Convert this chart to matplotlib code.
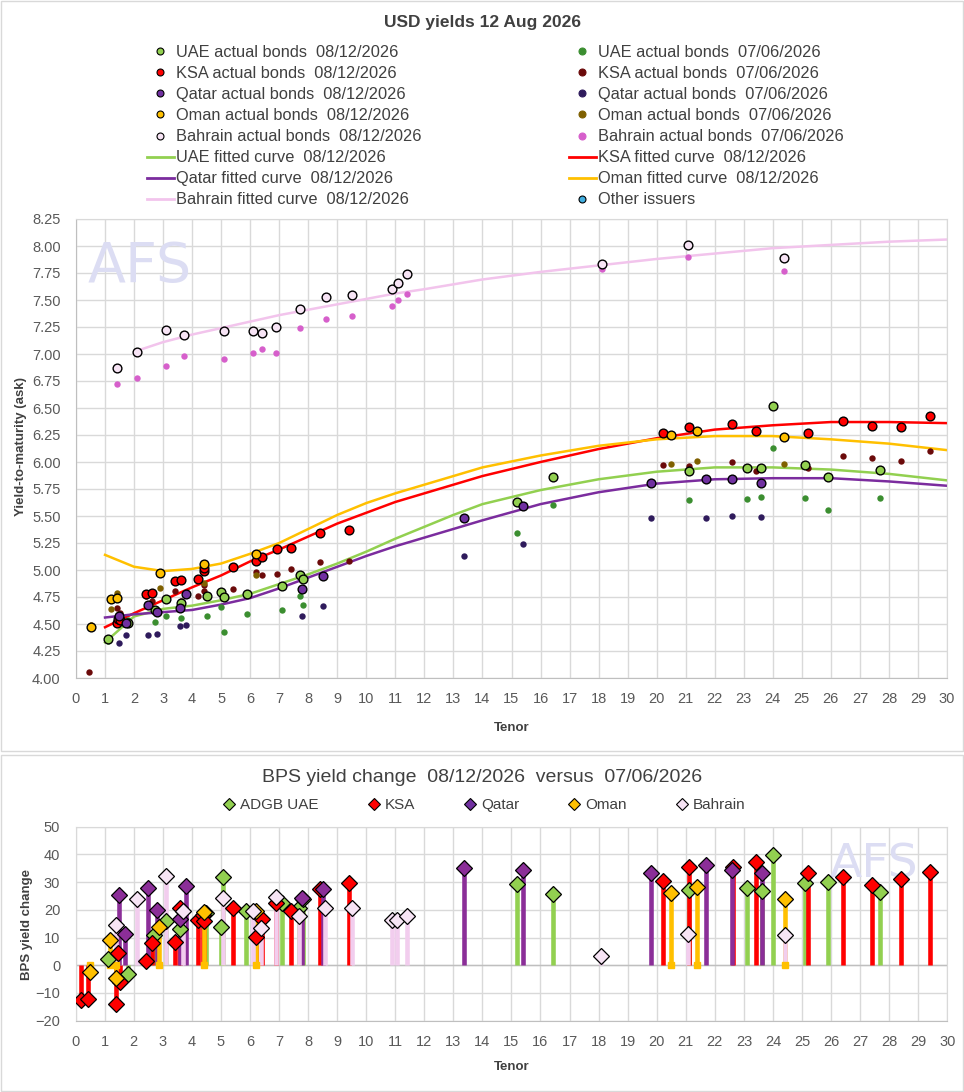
import numpy as np
import matplotlib.pyplot as plt
from matplotlib.lines import Line2D
from matplotlib.patches import Rectangle

plt.rcParams['font.family'] = ['Liberation Sans', 'DejaVu Sans']

nan = np.nan

# ---- actual bonds: tenor, yield 08/12/2026 (new), yield 07/06/2026 (old), bps change ----
uae_t = [1.11, 1.79, 2.71, 3.10, 3.60, 4.50, 5.01, 5.09, 5.88, 7.10, 7.70, 7.82,
         15.20, 16.42, 21.10, 23.10, 23.61, 24.00, 25.12, 25.90, 27.70]
uae_new = [4.36, 4.51, 4.63, 4.73, 4.69, 4.76, 4.80, 4.75, 4.78, 4.85, 4.95, 4.92,
           5.63, 5.86, 5.92, 5.94, 5.94, 6.52, 5.97, 5.86, 5.93]
uae_old = [4.34, 4.54, 4.52, 4.57, 4.56, 4.57, 4.66, 4.43, 4.59, 4.63, 4.76, 4.68,
           5.34, 5.60, 5.65, 5.66, 5.68, 6.13, 5.67, 5.56, 5.67]
uae_bps = [2.3, -3.1, 10.9, 15.9, 13.1, 18.8, 13.8, 31.8, 19.7, 22.4, 20.6, 24.0,
           29.4, 25.7, 27.2, 28.0, 26.9, 39.7, 29.8, 30.1, 26.3]

ksa_t = [0.19, 0.44, 1.41, 1.45, 1.52, 2.41, 2.63, 3.41, 3.61, 4.20, 4.40, 4.42, 5.42,
         6.20, 6.41, 6.91, 7.42, 8.42, 9.40, 20.21, 21.11, 22.61, 23.42, 25.20, 26.42,
         27.41, 28.41, 29.41]
ksa_new = [nan, nan, 4.51, 4.55, 4.54, 4.78, 4.79, 4.90, 4.91, 4.92, 4.99, 5.02, 5.03,
           5.08, 5.12, 5.19, 5.20, 5.34, 5.37, 6.27, 6.32, 6.35, 6.29, 6.27, 6.38,
           6.33, 6.32, 6.43]
ksa_old = [nan, 4.06, 4.65, 4.51, 4.60, 4.76, 4.71, 4.81, 4.71, 4.76, 4.81, 4.86, 4.82,
           4.98, 4.95, 4.96, 5.01, 5.07, 5.08, 5.97, 5.96, 6.00, 5.92, 5.94, 6.06,
           6.04, 6.01, 6.10]
ksa_bps = [-12.6, -12.2, -13.9, 4.3, -6.1, 1.6, 8.2, 8.5, 20.6, 16.4, 18.0, 16.0, 20.8,
           10.1, 16.8, 22.4, 19.6, 27.5, 29.6, 30.4, 35.6, 35.6, 37.2, 33.2, 32.0,
           29.0, 31.0, 33.6]

qat_t = [1.49, 1.71, 2.48, 2.79, 3.58, 3.79, 7.80, 8.50, 13.38, 15.40, 19.80, 21.70,
         22.60, 23.61]
qat_new = [4.57, 4.51, 4.68, 4.61, 4.65, 4.78, 4.82, 4.94, 5.48, 5.59, 5.81, 5.84,
           5.84, 5.81]
qat_old = [4.32, 4.40, 4.40, 4.41, 4.48, 4.49, 4.57, 4.67, 5.13, 5.24, 5.48, 5.48,
           5.50, 5.49]
qat_bps = [25.3, 11.2, 27.8, 20.0, 16.7, 28.7, 24.2, 27.5, 35.2, 34.4, 33.2, 36.2,
           34.2, 33.2]

oman_t = [0.50, 1.19, 1.40, 2.89, 4.41, 6.21, 20.50, 21.40, 24.40]
oman_new = [4.47, 4.73, 4.74, 4.97, 5.06, 5.15, 6.25, 6.29, 6.23]
oman_old = [4.49, 4.64, 4.79, 4.83, 4.88, 4.95, 5.98, 6.01, 5.98]
oman_bps = [-2.3, 9.1, -4.7, 13.7, 19.1, 19.7, 26.2, 28.4, 23.9]

bah_t = [1.41, 2.10, 3.10, 3.71, 5.09, 6.11, 6.40, 6.90, 7.70, 8.60, 9.50, 10.90,
         11.08, 11.40, 18.10, 21.09, 24.40]
bah_new = [6.87, 7.02, 7.22, 7.18, 7.21, 7.21, 7.19, 7.25, 7.42, 7.53, 7.55, 7.60,
           7.66, 7.74, 7.83, 8.01, 7.89]
bah_old = [6.72, 6.78, 6.89, 6.98, 6.95, 7.01, 7.05, 7.01, 7.24, 7.32, 7.35, 7.44,
           7.50, 7.56, 7.79, 7.90, 7.77]
bah_bps = [14.4, 23.9, 32.2, 19.7, 24.3, 19.5, 13.4, 24.8, 17.8, 20.6, 20.6, 16.4,
           16.4, 17.9, 3.5, 11.3, 10.8]

# ---- fitted curves 08/12/2026 ----
fit_t = [1, 2, 3, 4, 5, 6, 7, 8, 9, 10, 11, 12, 13, 14, 16, 18, 20, 22, 24, 26, 28, 30]
uae_fit = [4.33, 4.57, 4.64, 4.67, 4.72, 4.78, 4.87, 4.96, 5.06, 5.17, 5.29, 5.40,
           5.51, 5.61, 5.74, 5.84, 5.91, 5.95, 5.95, 5.93, 5.89, 5.83]
ksa_fit = [4.47, 4.60, 4.72, 4.84, 4.95, 5.08, 5.19, 5.31, 5.43, 5.53, 5.63, 5.71,
           5.79, 5.87, 6.00, 6.12, 6.22, 6.30, 6.34, 6.37, 6.37, 6.36]
qat_fit = [4.56, 4.59, 4.61, 4.63, 4.68, 4.74, 4.83, 4.93, 5.03, 5.13, 5.22, 5.30,
           5.38, 5.46, 5.61, 5.72, 5.80, 5.84, 5.85, 5.85, 5.82, 5.78]
oman_fit = [5.14, 5.03, 4.99, 5.01, 5.06, 5.15, 5.25, 5.38, 5.51, 5.62, 5.71, 5.79,
            5.87, 5.95, 6.06, 6.15, 6.21, 6.24, 6.24, 6.21, 6.17, 6.11]
bah_fit_t = [2.1, 3, 4, 5, 6, 7, 8, 9, 10, 11, 12, 14, 16, 18, 20, 22, 24, 26, 28, 30]
bah_fit = [7.03, 7.11, 7.18, 7.24, 7.30, 7.36, 7.41, 7.46, 7.51, 7.56, 7.60, 7.69,
           7.76, 7.82, 7.88, 7.93, 7.98, 8.01, 8.04, 8.06]

# colours
C_UAE, C_KSA, C_QAT, C_OMAN, C_BAH = '#92D050', '#FF0000', '#7030A0', '#FFC000', '#F7E4F5'
O_UAE, O_KSA, O_QAT, O_OMAN, O_BAH = '#3B8E30', '#6B0A0A', '#2F1B5C', '#7F6000', '#D65FCB'
L_QAT, L_BAH = '#7B2C9E', '#F2C4EC'
S_QAT, S_BAH = '#8B2E98', '#F2CDEE'
GRID = '#D9D9D9'
TXT = '#404040'

W, H = 964, 1092
fig = plt.figure(figsize=(W / 100, H / 100), dpi=100)

# chart area borders
fig.patches.append(Rectangle((1 / W, 1 - 751 / H), 962 / W, 750 / H, transform=fig.transFigure,
                             fill=False, ec=GRID, lw=1))
fig.patches.append(Rectangle((1 / W, 1 / H), 962 / W, (H - 756) / H, transform=fig.transFigure,
                             fill=False, ec=GRID, lw=1))

# ================= top chart =================
ax1 = fig.add_axes([76 / W, 1 - 678 / H, 871 / W, 459 / H])
ax1.set_xlim(0, 30)
ax1.set_ylim(4.0, 8.25)
ax1.set_xticks(range(31))
yt = np.arange(4.0, 8.26, 0.25)
ax1.set_yticks(yt)
ax1.set_yticklabels([f'{v:.2f}' for v in yt])
ax1.grid(True, color=GRID, lw=1)
ax1.set_axisbelow(True)
ax1.tick_params(length=0, labelsize=10.5, labelcolor='#595959')
ax1.tick_params(axis='x', pad=10)
ax1.tick_params(axis='y', pad=11)
for s in ax1.spines.values():
    s.set_color(GRID)
ax1.spines['left'].set_color('#BFBFBF')
ax1.spines['bottom'].set_color('#BFBFBF')

ax1.text(0.013, 0.955, 'AFS', transform=ax1.transAxes, fontsize=40, color='#DCDDF3',
         family='DejaVu Sans', ha='left', va='top', zorder=1)

for t, y, c in [(fit_t, uae_fit, C_UAE), (fit_t, ksa_fit, C_KSA), (fit_t, qat_fit, L_QAT),
                (fit_t, oman_fit, C_OMAN), (bah_fit_t, bah_fit, L_BAH)]:
    ax1.plot(t, y, color=c, lw=1.8, zorder=2, solid_joinstyle='round')

for t, y, c in [(uae_t, uae_old, O_UAE), (ksa_t, ksa_old, O_KSA), (qat_t, qat_old, O_QAT),
                (oman_t, oman_old, O_OMAN), (bah_t, bah_old, O_BAH)]:
    ax1.plot(t, y, 'o', ls='none', color=c, ms=4.6, mew=0, zorder=3)

for t, y, c in [(uae_t, uae_new, C_UAE), (ksa_t, ksa_new, C_KSA), (qat_t, qat_new, C_QAT),
                (oman_t, oman_new, C_OMAN), (bah_t, bah_new, C_BAH)]:
    ax1.plot(t, y, 'o', ls='none', mfc=c, mec='black', ms=6.3, mew=1.0, zorder=4)

fig.text(482 / W, 1 - 22 / H, 'USD yields 12 Aug 2026', ha='center', va='center',
         fontsize=12.5, fontweight='bold', color=TXT)
fig.text(21 / W, 1 - 446 / H, 'Yield-to-maturity (ask)', rotation=90, ha='center',
         va='center', fontsize=9.5, fontweight='bold', color=TXT)
fig.text(512 / W, 1 - 728 / H, 'Tenor', ha='center', va='center', fontsize=9.5,
         fontweight='bold', color=TXT)


def mk(c, edge=True):
    return dict(ls='none', marker='o', mfc=c, mec='black' if edge else c, ms=5, mew=0.8)


left = [Line2D([], [], **mk(C_UAE), label='UAE actual bonds  08/12/2026'),
        Line2D([], [], **mk(C_KSA), label='KSA actual bonds  08/12/2026'),
        Line2D([], [], **mk(C_QAT), label='Qatar actual bonds  08/12/2026'),
        Line2D([], [], **mk(C_OMAN), label='Oman actual bonds  08/12/2026'),
        Line2D([], [], **mk(C_BAH), label='Bahrain actual bonds  08/12/2026'),
        Line2D([], [], color=C_UAE, lw=2, label='UAE fitted curve  08/12/2026'),
        Line2D([], [], color=L_QAT, lw=2, label='Qatar fitted curve  08/12/2026'),
        Line2D([], [], color=L_BAH, lw=2, label='Bahrain fitted curve  08/12/2026')]
right = [Line2D([], [], **mk(O_UAE, False), label='UAE actual bonds  07/06/2026'),
         Line2D([], [], **mk(O_KSA, False), label='KSA actual bonds  07/06/2026'),
         Line2D([], [], **mk(O_QAT, False), label='Qatar actual bonds  07/06/2026'),
         Line2D([], [], **mk(O_OMAN, False), label='Oman actual bonds  07/06/2026'),
         Line2D([], [], **mk(O_BAH, False), label='Bahrain actual bonds  07/06/2026'),
         Line2D([], [], color=C_KSA, lw=2, label='KSA fitted curve  08/12/2026'),
         Line2D([], [], color=C_OMAN, lw=2, label='Oman fitted curve  08/12/2026'),
         Line2D([], [], **mk('#41AEE0'), label='Other issuers')]

for handles, x0 in [(left, 147), (right, 569)]:
    fig.legend(handles=handles, loc='upper left', bbox_to_anchor=(x0 / W, 1 - 45 / H),
               frameon=False, fontsize=11.8, handlelength=1.62, handletextpad=0.17,
               labelspacing=0.37, borderpad=0, borderaxespad=0, labelcolor=TXT)

# ================= bottom chart =================
ax2 = fig.add_axes([75.5 / W, 1 - 1020.7 / H, 871.8 / W, 194 / H])
ax2.set_xlim(0, 30)
ax2.set_ylim(-20, 50)
ax2.set_xticks(range(31))
ax2.set_yticks(range(-20, 51, 10))
ax2.grid(True, color=GRID, lw=1)
ax2.set_axisbelow(True)
ax2.tick_params(length=0, labelsize=10.5, labelcolor='#595959')
ax2.tick_params(axis='x', pad=10)
ax2.tick_params(axis='y', pad=11)
for s in ax2.spines.values():
    s.set_color(GRID)
ax2.spines['bottom'].set_color('#BFBFBF')
ax2.axhline(0, color='#BFBFBF', lw=1, zorder=1)

ax2.text(0.865, 0.92, 'AFS', transform=ax2.transAxes, fontsize=34, color='#DCDDF3',
         family='DejaVu Sans', ha='left', va='top', zorder=1)

series = [(uae_t, uae_bps, C_UAE, C_UAE), (ksa_t, ksa_bps, C_KSA, C_KSA),
          (qat_t, qat_bps, S_QAT, S_QAT), (oman_t, oman_bps, C_OMAN, C_OMAN),
          (bah_t, bah_bps, S_BAH, C_BAH)]
for t, b, sc, fc in series:
    ax2.vlines(t, 0, b, colors=sc, lw=3.3, zorder=2)
ax2.plot(oman_t, np.zeros(len(oman_t)), 's', ls='none', color=C_OMAN, ms=4, zorder=2)
for t, b, sc, fc in series:
    ax2.plot(t, b, 'D', ls='none', mfc=fc, mec='black', ms=8.6, mew=0.9, zorder=3)

fig.text(482 / W, 1 - 777 / H, 'BPS yield change  08/12/2026  versus  07/06/2026',
         ha='center', va='center', fontsize=14, color=TXT)
fig.text(27 / W, 1 - 924 / H, 'BPS yield change', rotation=90, ha='center',
         va='center', fontsize=9.5, fontweight='bold', color=TXT)
fig.text(512 / W, 1 - 1067 / H, 'Tenor', ha='center', va='center', fontsize=9.5,
         fontweight='bold', color=TXT)

bh = [Line2D([], [], ls='none', marker='D', mfc=c, mec='black', ms=6.5, mew=0.8, label=l)
      for c, l in [(C_UAE, 'ADGB UAE'), (C_KSA, 'KSA'), (C_QAT, 'Qatar'),
                   (C_OMAN, 'Oman'), (C_BAH, 'Bahrain')]]
fig.legend(handles=bh, loc='center left', bbox_to_anchor=(224 / W, 1 - 805 / H), ncol=5,
           frameon=False, fontsize=11, handlelength=0.7, handletextpad=0.37,
           columnspacing=3.25, borderpad=0, borderaxespad=0, labelcolor=TXT)

fig.savefig('out.png', dpi=100)
